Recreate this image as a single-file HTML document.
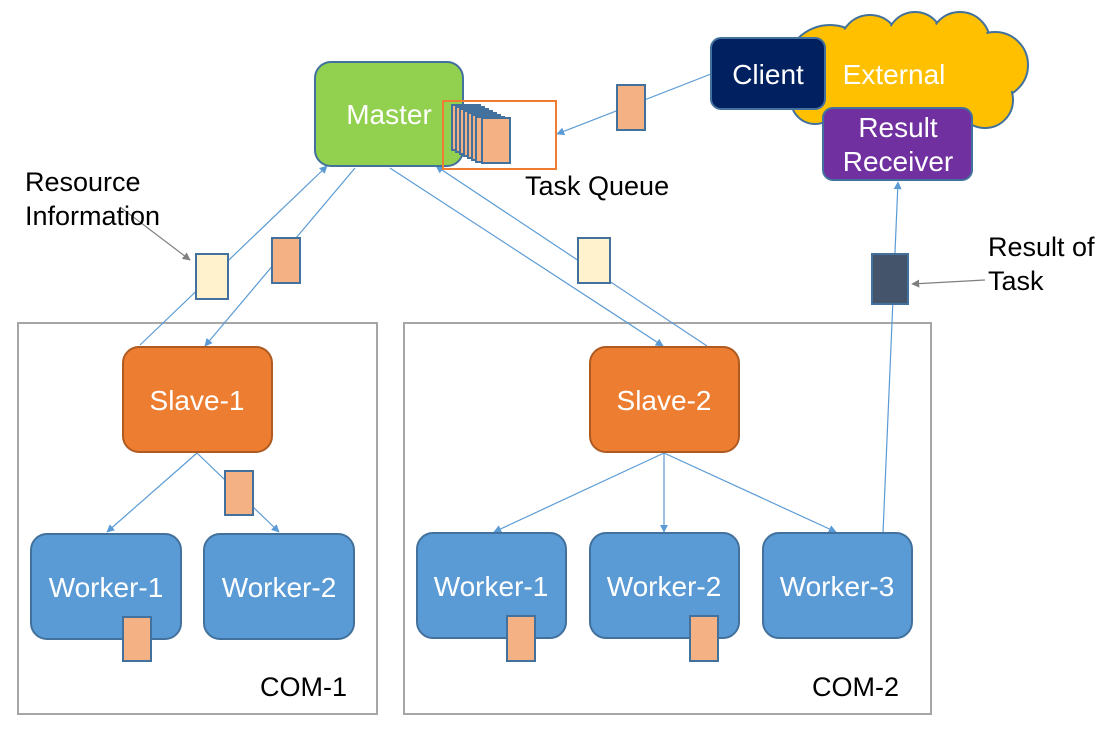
<!DOCTYPE html>
<html><head><meta charset="utf-8"><style>
html,body{margin:0;padding:0;background:#fff;}
svg{display:block;font-family:"Liberation Sans","Noto Sans CJK KR",sans-serif;}
</style></head><body>
<svg width="1101" height="730" viewBox="0 0 1101 730" xmlns="http://www.w3.org/2000/svg">
<defs>
<marker id="a" viewBox="0 0 10 10" refX="9" refY="5" markerWidth="8" markerHeight="8" orient="auto-start-reverse" markerUnits="userSpaceOnUse"><path d="M0,0 L10,5 L0,10 z" fill="#5b9bd5"/></marker>
<marker id="g" viewBox="0 0 10 10" refX="9" refY="5" markerWidth="8" markerHeight="8" orient="auto" markerUnits="userSpaceOnUse"><path d="M0,0 L10,5 L0,10 z" fill="#7f7f7f"/></marker>
</defs>
<!-- cloud -->
<g stroke="#41719c" stroke-width="2" fill="#ffc000">
<circle cx="830" cy="70" r="45"/><circle cx="870" cy="45" r="30"/><circle cx="915" cy="40" r="28"/><circle cx="960" cy="42" r="30"/><circle cx="995" cy="65" r="33"/><circle cx="985" cy="100" r="28"/><circle cx="935" cy="100" r="28"/><circle cx="880" cy="100" r="28"/><circle cx="815" cy="100" r="24"/>
</g>
<g fill="#ffc000">
<circle cx="830" cy="70" r="43"/><circle cx="870" cy="45" r="28"/><circle cx="915" cy="40" r="26"/><circle cx="960" cy="42" r="28"/><circle cx="995" cy="65" r="31"/><circle cx="985" cy="100" r="26"/><circle cx="935" cy="100" r="26"/><circle cx="880" cy="100" r="26"/><circle cx="815" cy="100" r="22"/>
<rect x="830" y="40" width="160" height="70"/>
</g>
<!-- COM boxes -->
<rect x="18" y="323" width="359" height="391" fill="none" stroke="#a6a6a6" stroke-width="2"/>
<rect x="404" y="323" width="527" height="391" fill="none" stroke="#a6a6a6" stroke-width="2"/>
<!-- lines -->
<g stroke="#5b9bd5" stroke-width="1.2" fill="none">
<line x1="140" y1="345" x2="327" y2="166" marker-end="url(#a)"/>
<line x1="355" y1="168" x2="205" y2="346" marker-end="url(#a)"/>
<line x1="390" y1="168" x2="663" y2="346" marker-end="url(#a)"/>
<line x1="707" y1="346" x2="436" y2="166" marker-end="url(#a)"/>
<line x1="197" y1="453" x2="107" y2="532" marker-end="url(#a)"/>
<line x1="197" y1="453" x2="279" y2="532" marker-end="url(#a)"/>
<line x1="664" y1="453" x2="494" y2="532" marker-end="url(#a)"/>
<line x1="664" y1="453" x2="664" y2="532" marker-end="url(#a)"/>
<line x1="664" y1="453" x2="836" y2="532" marker-end="url(#a)"/>
<line x1="883" y1="533" x2="898" y2="182" marker-end="url(#a)"/>
<line x1="711" y1="74" x2="557" y2="134" marker-end="url(#a)"/>
</g>
<g stroke="#7f7f7f" stroke-width="1.2">
<line x1="120" y1="207" x2="190" y2="260" marker-end="url(#g)"/>
<line x1="985" y1="280" x2="912" y2="284" marker-end="url(#g)"/>
</g>
<!-- nodes -->
<g stroke-width="2">
<rect x="315" y="62" width="148" height="104" rx="16" fill="#92d050" stroke="#41719c"/>
<rect x="711" y="38" width="114" height="71" rx="10" fill="#002060" stroke="#41719c"/>
<rect x="823" y="108" width="149" height="72" rx="10" fill="#7030a0" stroke="#41719c"/>
<rect x="123" y="347" width="149" height="105" rx="16" fill="#ed7d31" stroke="#ae5a21"/>
<rect x="590" y="347" width="149" height="105" rx="16" fill="#ed7d31" stroke="#ae5a21"/>
<g fill="#5b9bd5" stroke="#41719c">
<rect x="31" y="534" width="150" height="105" rx="16"/>
<rect x="204" y="534" width="150" height="105" rx="16"/>
<rect x="417" y="533" width="149" height="105" rx="16"/>
<rect x="590" y="533" width="149" height="105" rx="16"/>
<rect x="763" y="533" width="149" height="105" rx="16"/>
</g>
</g>
<!-- cards -->
<g stroke="#41719c" stroke-width="2" fill="#f4b183">
<rect x="617" y="85" width="28" height="45"/>
<rect x="272" y="238" width="28" height="45"/>
<rect x="225" y="471" width="28" height="44"/>
<rect x="123" y="617" width="28" height="44"/>
<rect x="507" y="616" width="28" height="45"/>
<rect x="690" y="616" width="28" height="45"/>
<rect x="196" y="254" width="32" height="45" fill="#fff2cc"/>
<rect x="578" y="238" width="32" height="45" fill="#fff2cc"/>
<rect x="872" y="254" width="36" height="50" fill="#44546a"/>
<rect x="452" y="105" width="28" height="45"/>
<rect x="456" y="107" width="28" height="45"/>
<rect x="460" y="109" width="28" height="45"/>
<rect x="464" y="111" width="28" height="45"/>
<rect x="468" y="113" width="28" height="45"/>
<rect x="472" y="115" width="28" height="45"/>
<rect x="476" y="117" width="28" height="45"/>
<rect x="482" y="118" width="28" height="45"/>
</g>
<rect x="443" y="101" width="113" height="68" fill="none" stroke="#ed7d31" stroke-width="2"/>
<!-- text -->
<g fill="#fff" font-size="28" text-anchor="middle">
<text x="389" y="124">Master</text>
<text x="768" y="84">Client</text>
<text x="894" y="84">External</text>
<text x="898" y="137">Result</text>
<text x="898" y="171">Receiver</text>
<text x="197" y="410">Slave-1</text>
<text x="664" y="410">Slave-2</text>
<text x="106" y="597">Worker-1</text>
<text x="279" y="597">Worker-2</text>
<text x="491" y="596">Worker-1</text>
<text x="664" y="596">Worker-2</text>
<text x="837" y="596">Worker-3</text>
</g>
<g fill="#000" font-size="27">
<text x="25" y="191">Resource</text>
<text x="25" y="225">Information</text>
<text x="525" y="195">Task Queue</text>
<text x="988" y="256">Result of</text>
<text x="988" y="290">Task</text>
<text x="260" y="696">COM-1</text>
<text x="812" y="696">COM-2</text>
</g>
</svg>
</body></html>
